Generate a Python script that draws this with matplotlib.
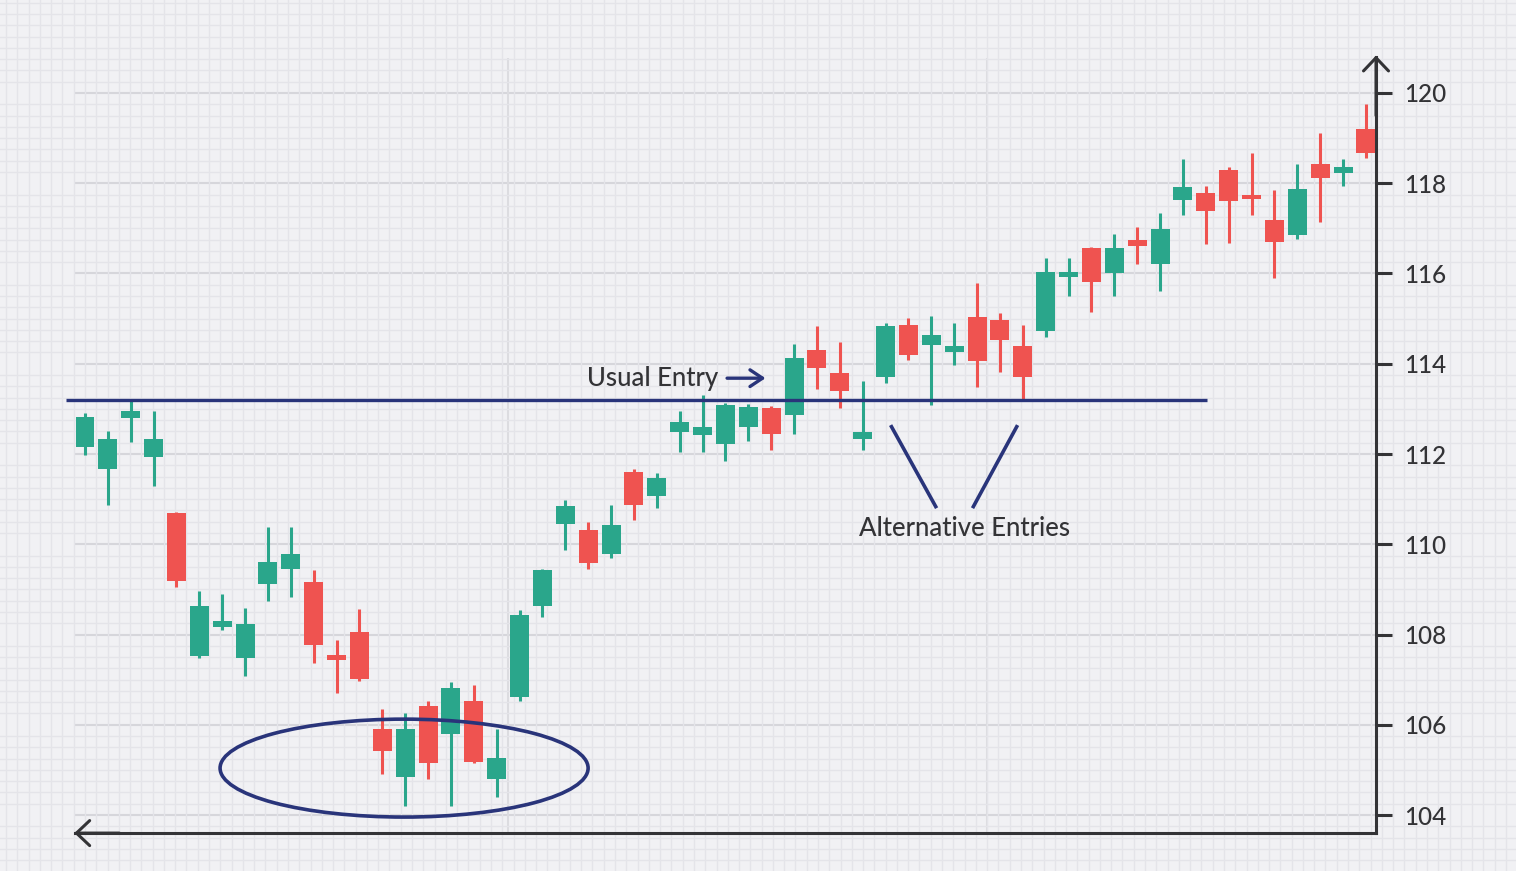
import numpy as np
import matplotlib
matplotlib.use("Agg")
from matplotlib import pyplot as plt
from matplotlib.patches import Ellipse
from matplotlib.ticker import MultipleLocator

plt.rcParams["font.family"] = ["Lato", "DejaVu Sans"]

# OHLC values (one candle per session)
opens = [112.16, 111.67, 112.80, 111.93, 110.70, 107.53, 108.17, 107.49, 109.13, 109.45,
         109.17, 107.55, 108.06, 105.91, 104.85, 106.41, 105.79, 106.53, 104.80, 106.62,
         108.64, 110.44, 110.32, 109.78, 111.61, 111.08, 112.49, 112.43, 112.22, 112.60,
         113.01, 112.87, 114.30, 113.80, 112.33, 113.70, 114.85, 114.42, 114.27, 115.04,
         114.97, 114.39, 114.73, 115.93, 116.56, 116.02, 116.74, 116.20, 117.63, 117.79,
         118.29, 117.75, 117.19, 116.85, 118.43, 118.22, 119.20]
highs = [112.91, 112.52, 113.17, 112.96, 110.72, 108.96, 108.90, 108.59, 110.38, 110.38,
         109.43, 107.88, 108.57, 106.36, 106.26, 106.52, 106.95, 106.89, 105.91, 108.55,
         109.46, 110.99, 110.49, 110.86, 111.66, 111.59, 112.96, 113.31, 113.14, 113.11,
         113.07, 114.44, 114.84, 114.48, 113.62, 114.90, 115.01, 115.06, 114.91, 115.79,
         115.13, 114.86, 116.35, 116.35, 116.58, 116.88, 117.02, 117.35, 118.54, 117.94,
         118.37, 118.67, 117.85, 118.43, 119.11, 118.54, 119.76]
lows = [111.98, 110.87, 112.27, 111.29, 109.06, 107.49, 108.10, 107.08, 108.74, 108.84,
        107.37, 106.71, 106.98, 104.91, 104.21, 104.80, 104.21, 105.15, 104.41, 106.53,
        108.39, 109.87, 109.45, 109.69, 110.53, 110.80, 112.05, 112.05, 111.85, 112.29,
        112.09, 112.44, 113.44, 113.03, 112.09, 113.57, 114.08, 113.09, 113.97, 113.48,
        113.82, 113.21, 114.60, 115.51, 115.14, 115.51, 116.20, 115.61, 117.30, 116.65,
        116.68, 117.30, 115.91, 116.76, 117.15, 117.94, 118.56]
closes = [112.83, 112.33, 112.96, 112.33, 109.19, 108.63, 108.31, 108.23, 109.61, 109.78,
          107.77, 107.43, 107.02, 105.43, 105.91, 105.15, 106.81, 105.18, 105.26, 108.44,
          109.44, 110.85, 109.59, 110.43, 110.87, 111.46, 112.71, 112.59, 113.08, 113.05,
          112.44, 114.13, 113.90, 113.39, 112.48, 114.84, 114.19, 114.63, 114.40, 114.05,
          114.53, 113.70, 116.04, 116.04, 115.82, 116.56, 116.62, 116.99, 117.92, 117.38,
          117.60, 117.66, 116.69, 117.87, 118.12, 118.37, 118.66]

yticks = [104, 106, 108, 110, 112, 114, 116, 118, 120]
entry_level = 113.2

GREEN = "#2aa68b"
RED = "#ef5350"
NAVY = "#29347a"
INK = "#333336"

o = np.array(opens)
h = np.array(highs)
l = np.array(lows)
c = np.array(closes)
x = np.arange(len(o))
colors = np.where(c >= o, GREEN, RED)

fig = plt.figure(figsize=(15.16, 8.71), dpi=100)
fig.patch.set_facecolor("#f1f1f4")
ax = fig.add_axes([0, 0, 1, 1])
ax.set_facecolor("#f1f1f4")
ax.set_xlim(-3.716, 62.56)
ax.set_ylim(102.76, 122.06)

# graph paper grid
ax.xaxis.set_minor_locator(MultipleLocator(0.493))
ax.yaxis.set_minor_locator(MultipleLocator(0.25))
ax.grid(which="minor", color="#e4e4e9", lw=1.0, zorder=0)
ax.set_axisbelow(True)
ax.hlines(yticks, -0.5, 56.44, color="#d6d6db", lw=1.5, zorder=0.5)
ax.vlines([18.49, 39.43], 103.6, 120.78, color="#dcdce0", lw=1.5, zorder=0.5)

# candles
ax.vlines(x, l, h, color=colors, lw=2.2, zorder=2)
body_lo = np.minimum(o, c)
body_h = np.maximum(np.abs(c - o), 0.09)
ax.bar(x, body_h, bottom=body_lo, width=0.83, color=colors, zorder=3)

# axes: right spine with ticks, bottom spine
for side in ["top", "left"]:
    ax.spines[side].set_visible(False)
ax.spines["right"].set_position(("data", 56.44))
ax.spines["right"].set_bounds(103.6, 120.8)
ax.spines["bottom"].set_position(("data", 103.6))
ax.spines["bottom"].set_bounds(-0.44, 56.44)
for side in ["right", "bottom"]:
    ax.spines[side].set_color(INK)
    ax.spines[side].set_linewidth(2.2)
    ax.spines[side].set_zorder(5)
ax.yaxis.tick_right()
ax.set_yticks(yticks)
ax.set_yticklabels([str(v) for v in yticks], fontweight="medium")
ax.set_xticks([])
ax.tick_params(axis="y", which="major", direction="out", length=11.5, width=2.2,
               color=INK, pad=9, labelsize=17.5, labelcolor=INK)
ax.tick_params(which="minor", length=0)

arrow_kw = dict(arrowstyle="->,head_length=0.95,head_width=0.9", color=INK, lw=2.2,
                shrinkA=0, shrinkB=0)
ax.annotate("", xy=(56.44, 120.83), xytext=(56.44, 119.5), arrowprops=arrow_kw, zorder=6)
ax.annotate("", xy=(-0.47, 103.6), xytext=(1.5, 103.6), arrowprops=arrow_kw, zorder=6)

# entry level and annotations
ax.hlines(entry_level, -0.83, 49.05, color=NAVY, lw=2.4, zorder=4)
ax.add_patch(Ellipse((13.95, 105.04), 16.09, 2.17, fill=False, edgecolor=NAVY,
                     lw=2.6, zorder=4))

ax.text(27.67, 113.68, "Usual Entry", ha="right", va="center", fontsize=18.5,
        fontweight="medium", color=INK, zorder=6)
ax.annotate("", xy=(29.75, 113.68), xytext=(28.07, 113.68),
            arrowprops=dict(arrowstyle="->,head_length=0.9,head_width=0.6",
                            color=NAVY, lw=2.4, shrinkA=0, shrinkB=0), zorder=6)

ax.plot([35.22, 37.23], [112.64, 110.80], color=NAVY, lw=2.6, solid_capstyle="butt", zorder=4)
ax.plot([40.77, 38.80], [112.64, 110.80], color=NAVY, lw=2.6, solid_capstyle="butt", zorder=4)
ax.text(38.45, 110.36, "Alternative Entries", ha="center", va="center", fontsize=18.5,
        fontweight="medium", color=INK, zorder=6)

plt.savefig("out.png", dpi=100, facecolor=fig.get_facecolor())
plt.close()
